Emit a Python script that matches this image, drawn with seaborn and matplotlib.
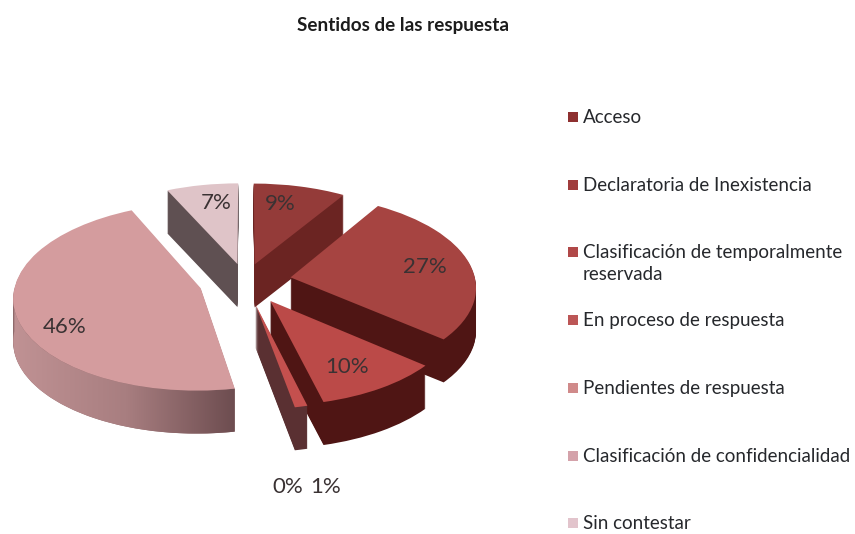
import numpy as np
import matplotlib
matplotlib.use("Agg")
import matplotlib.pyplot as plt
import seaborn as sns
from matplotlib.colors import LinearSegmentedColormap
from matplotlib.patches import Polygon
from matplotlib.transforms import Affine2D, Transform

categories = ["Acceso", "Declaratoria de Inexistencia",
              "Clasificación de temporalmente\nreservada", "En proceso de respuesta",
              "Pendientes de respuesta", "Clasificación de confidencialidad", "Sin contestar"]
values = [9, 27, 10, 1, 0, 46, 7]
top_colors = ["#943b39", "#a64441", "#bb4a48", "#c4504e", "#c9706e", "#d49c9e", "#dfc4c8"]
side_colors = ["#6b2422", "#4f1514", "#4f1514", "#5a3032", "#5a3032", "#8f6a6c", "#5f5052"]
legend_colors = ["#8e3030", "#a03c3c", "#b04848", "#bc5656", "#d08a8a", "#d4a2aa", "#e2c4cc"]
explode = [0.19, 0.25, 0.25, 0.25, 0.25, 0.25, 0.19]
back_to_front = [6, 0, 5, 1, 2, 3, 4]

# pie geometry in picture pixels
W, H = 855, 534
CX, CY = 245, 281
RADIUS = 185
SQUASH = 0.5
DEPTH = 43
PERSP = 0.001


def ydata(py):
    return (H - py) / SQUASH


class Perspective(Transform):
    """Front of the pie bigger than the back."""
    input_dims = output_dims = 2
    has_inverse = False

    def transform_non_affine(self, values):
        xy = np.asarray(values, dtype=float)
        k = 1 + PERSP * SQUASH * (ydata(CY) - xy[:, 1])
        return np.c_[CX + (xy[:, 0] - CX) * k, ydata(CY) + (xy[:, 1] - ydata(CY)) * k]


sns.set_theme(style="white")
plt.rcParams["font.family"] = ["Lato", "DejaVu Sans"]

fig = plt.figure(figsize=(W / 100, H / 100), dpi=100)
ax = fig.add_axes([0, 0, 1, 1])

# pie() takes explode in data units, not as a share of the radius
offsets = [e * RADIUS for e in explode]

# sides: same pie repeated downwards, top surface last
for d in range(DEPTH, -1, -1):
    wedges, _ = ax.pie(values, explode=offsets, startangle=90, counterclock=False,
                       radius=RADIUS, center=(CX, ydata(CY)),
                       colors=top_colors if d == 0 else side_colors,
                       wedgeprops={"linewidth": 0}, frame=True)
    layer = Perspective() + Affine2D().translate(0, -d / SQUASH) + ax.transData
    for i, w in enumerate(wedges):
        w.set_transform(layer)
        w.set_zorder(back_to_front.index(i) * 10 + (2 if d == 0 else 1) + (DEPTH - d) * 0.01)
    if d == 0:
        big = wedges[5]

ax.set_aspect("auto")
ax.axis("off")

# shaded outer face of the big slice
th = np.radians(np.linspace(big.theta1, big.theta2, 200))
th = th[np.sin(th) < 0]
arc = Perspective().transform_non_affine(
    np.c_[big.center[0] + RADIUS * np.cos(th), big.center[1] + RADIUS * np.sin(th)])
band = np.r_[arc, (arc - [0, DEPTH / SQUASH])[::-1]]
clip = Polygon(band, transform=ax.transData)
shade = LinearSegmentedColormap.from_list("shade", ["#c09294", "#a87e80", "#6b4b4e"])
im = ax.imshow(np.linspace(0, 1, 256)[None, :], cmap=shade, aspect="auto",
               extent=[13, 238, ydata(460), ydata(280)],
               zorder=back_to_front.index(5) * 10 + 1.9)
im.set_clip_path(clip)
ax.set_xlim(0, W)
ax.set_ylim(0, H / SQUASH)

# percent labels
pct_pos = [(280, 204), (425, 267), (347, 367), (326, 487), (288, 487), (65, 327), (216, 203)]
for i in range(len(values)):
    x, y = pct_pos[i]
    ax.text(x, ydata(y), f"{values[i]}%", ha="center", va="center", fontsize=16,
            color="#3a3233", zorder=200)

# legend
for i, label in enumerate(categories):
    y = 117 + i * 67.7
    ax.scatter([573], [ydata(y)], marker="s", s=62, color=legend_colors[i], linewidth=0, zorder=200)
    ax.text(583, ydata(y - 8), label, ha="left", va="top", fontsize=13.5, color="#26282c",
            linespacing=1.35, zorder=200)

ax.text(403, ydata(26), "Sentidos de las respuesta", ha="center", va="center", fontsize=13.6,
        fontweight="bold", color="#1c1c1c", zorder=200)

fig.savefig("out.png", dpi=100)
